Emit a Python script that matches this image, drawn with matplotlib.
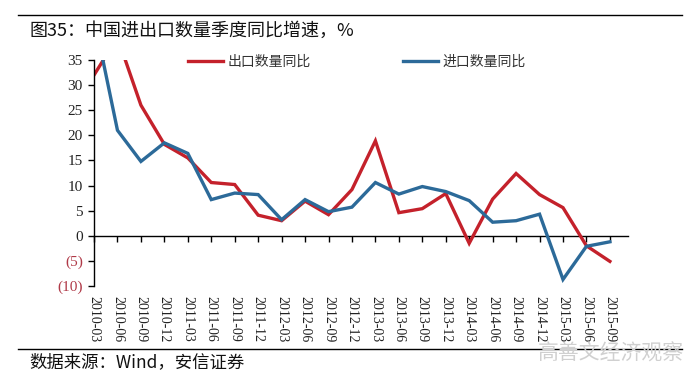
import matplotlib
matplotlib.use("Agg")
import matplotlib.pyplot as plt

categories = ["2010-03", "2010-06", "2010-09", "2010-12", "2011-03", "2011-06",
              "2011-09", "2011-12", "2012-03", "2012-06", "2012-09", "2012-12",
              "2013-03", "2013-06", "2013-09", "2013-12", "2014-03", "2014-06",
              "2014-09", "2014-12", "2015-03", "2015-06", "2015-09"]
export_vals = [32.0, 39.5, 26.0, 18.2, 15.5, 10.6, 10.2, 4.1, 3.0, 6.9, 4.2, 9.2,
               18.9, 4.6, 5.4, 8.4, -1.5, 7.3, 12.4, 8.2, 5.6, -2.0, -5.1]
import_vals = [43.5, 21.0, 14.8, 18.5, 16.4, 7.2, 8.5, 8.2, 3.2, 7.2, 4.8, 5.7,
               10.6, 8.3, 9.8, 8.8, 7.0, 2.7, 3.0, 4.3, -8.7, -2.1, -1.2]
series_names = ["出口数量同比", "进口数量同比"]
y_ticks = [-10, -5, 0, 5, 10, 15, 20, 25, 30, 35]
y_tick_labels = ["(10)", "(5)", "0", "5", "10", "15", "20", "25", "30", "35"]

title_text = "图35：中国进出口数量季度同比增速，%"
source_text = "数据来源：Wind，安信证券"
watermark_text = "高善文经济观察"

RED = "#C4212B"
BLUE = "#2C6A99"
NEG = "#B03A48"
CJK = ["Noto Sans CJK SC", "DejaVu Sans"]
SERIF = ["Liberation Serif", "DejaVu Serif"]

fig = plt.figure(figsize=(6.98, 3.87), dpi=100)
ax = fig.add_axes([0.1347, 0.261, 0.7646, 0.584])

x = list(range(len(categories)))
ax.plot(x, export_vals, color=RED, lw=2.4, label=series_names[0], solid_joinstyle="miter")
ax.plot(x, import_vals, color=BLUE, lw=2.4, label=series_names[1], solid_joinstyle="miter")

ax.set_xlim(0, 22.76)
ax.set_ylim(-10, 35)

for s in ["top", "right", "bottom"]:
    ax.spines[s].set_visible(False)
ax.spines["left"].set_linewidth(1.0)

ax.set_yticks(y_ticks)
ax.set_yticklabels(y_tick_labels, fontfamily=SERIF, fontsize=11)
for lab, v in zip(ax.get_yticklabels(), y_ticks):
    lab.set_color(NEG if v < 0 else "#222222")
ax.tick_params(axis="y", direction="out", length=4, width=1.0, pad=4)

ax.set_xticks(x)
ax.set_xticklabels(categories, rotation=-90, fontfamily=SERIF, fontsize=10)
ax.tick_params(axis="x", length=0, pad=7, colors="#222222")

sec = ax.secondary_xaxis(10 / 45)
sec.set_xticks(x)
sec.set_xticklabels([""] * len(x))
sec.tick_params(axis="x", direction="out", length=4, width=1.0)
sec.spines["bottom"].set_linewidth(1.0)

leg = fig.legend(loc="center", bbox_to_anchor=(357 / 698, 1 - 62 / 387), ncol=2,
                 frameon=False, handlelength=2.5, handletextpad=0.35,
                 columnspacing=6.6, prop={"family": CJK, "size": 10})
for t in leg.get_texts():
    t.set_color("#333333")

fig.add_artist(plt.Line2D([18 / 698, 682 / 698], [1 - 15 / 387, 1 - 15 / 387],
                          color="black", lw=1.0))
fig.text(30 / 698, 1 - 31 / 387, title_text, family=CJK, fontsize=13,
         va="center", ha="left", color="#111111")
fig.add_artist(plt.Line2D([18 / 698, 682 / 698], [1 - 349 / 387, 1 - 349 / 387],
                          color="black", lw=1.0))
fig.text(29 / 698, 1 - 362 / 387, source_text, family=CJK, fontsize=12.5,
         va="center", ha="left", color="#111111")
fig.text(684 / 698, 1 - 354 / 387, watermark_text, family=CJK, fontsize=15,
         va="center", ha="right", color="#D0D0D0")

fig.savefig("out.png", dpi=100)
